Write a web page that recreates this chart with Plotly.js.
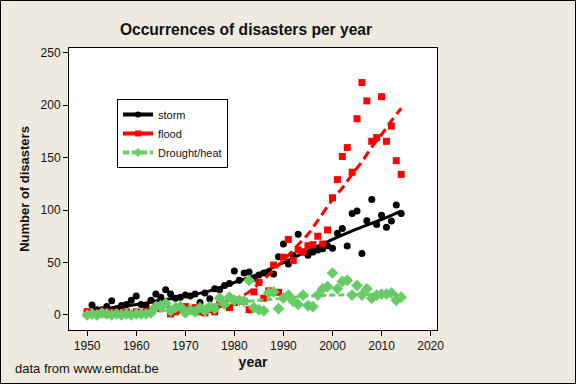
<!DOCTYPE html>
<html>
<head>
<meta charset="utf-8">
<script src="https://cdn.plot.ly/plotly-3.0.1.min.js"></script>
<style>
  html, body { margin: 0; padding: 0; background: #EEEAE0; }
  #chart { width: 576px; height: 384px; }
</style>
</head>
<body>
<div id="chart"></div>
<script>
// ---- data ----
const years = [];
for (let y = 1950; y <= 2014; y++) years.push(y);

const storm = [3, 9.5, 5, 5, 8, 13.5, 6, 9, 10, 14,
               18, 10, 9, 14, 20, 17, 24, 20, 16, 17,
               19, 18, 20, 12, 21, 15.5, 25, 24, 28, 30,
               42, 33, 40, 41, 35, 38, 40, 41, 39, 55.5,
               67.6, 48.5, 57, 77, 60, 57, 60, 62, 63, 66,
               63.5, 78, 82.5, 65.7, 96.8, 99, 58.7, 89.7, 110, 86.3,
               95, 83.5, 89.5, 104.7, 96.8];

const flood = [3, 1, 2, 1, 3, 2, 1, 2, 3, 1,
               3, 2, 3, 4, 8, 6, 10, 1, 3, 5,
               8, 4, 7, 3, 2, 5, 3, 10, 11, 7,
               12, 14, 13, 5, 22, 31, 16, 23, 47.6, 21.6,
               55, 72, 52, 62, 60, 66, 67, 75, 67.6, 81,
               111.7, 129, 151, 159.5, 136, 187, 221.5, 204, 165.5, 169,
               208, 165.5, 180, 147, 134];

const drought = [0, 1, 0, 2, 1, 0, 1, 0, 1, 0,
                 1, 1, 1, 2, 8, 9, 11, 4, 7, 8,
                 2, 5, 3, 7, 4, 8, 6, 16, 10, 17,
                 14, 14, 13, 33, 7, 5, 4, 21, 22, 6,
                 16, 19, 13, 10, 19, 9, 8, 19, 25, 27,
                 40, 25, 32, 33, 19, 28, 19, 25, 16, 19,
                 20, 20, 21, 14, 17];

// smoothed trend lines
const trendYears   = [1950, 1955, 1960, 1965, 1970, 1975, 1980, 1985, 1990, 1995, 2000, 2005, 2010, 2014];
const stormTrend   = [4, 7, 10, 14, 18, 23, 31, 39, 50, 61, 72, 82, 91, 99];
const droughtTrend = [0.5, 1, 2, 4, 6, 9, 12, 14, 16, 18, 19, 19.5, 19.5, 19.5];

const floodTrendYears = [1982, 1983, 1986, 1990, 1993, 1995, 1997, 2000, 2002, 2004, 2006, 2008, 2010, 2012, 2014];
const floodTrend      = [19, 22, 34, 52, 67, 77, 90, 110, 121, 134, 146, 160, 172, 185, 197];

const seriesNames = ['storm', 'flood', 'Drought/heat'];
const xTicks = [1950, 1960, 1970, 1980, 1990, 2000, 2010, 2020];
const yTicks = [0, 50, 100, 150, 200, 250];

// ---- styles ----
const BLACK = '#000000', RED = '#FF0000', GREEN = '#66CC66';
const FONT = 'Liberation Sans, Arial, sans-serif';

const traces = [
  // storm
  { x: years, y: storm, mode: 'markers', type: 'scatter', showlegend: false,
    marker: { symbol: 'circle', size: 7, color: BLACK } },
  { x: trendYears, y: stormTrend, mode: 'lines', type: 'scatter', showlegend: false,
    line: { color: BLACK, width: 3, shape: 'spline' } },
  // flood
  { x: years, y: flood, mode: 'markers', type: 'scatter', showlegend: false,
    marker: { symbol: 'square', size: 7, color: RED } },
  { x: floodTrendYears, y: floodTrend, mode: 'lines', type: 'scatter', showlegend: false,
    line: { color: RED, width: 3, dash: '9px,5px', shape: 'spline' } },
  // drought
  { x: years, y: drought, mode: 'markers', type: 'scatter', showlegend: false,
    marker: { symbol: 'diamond', size: 9, color: GREEN } },
  { x: trendYears, y: droughtTrend, mode: 'lines', type: 'scatter', showlegend: false,
    line: { color: GREEN, width: 3, dash: '6px,3px', shape: 'spline' } },
  // legend entries
  { x: [null], y: [null], mode: 'lines+markers', type: 'scatter', name: seriesNames[0],
    line: { color: BLACK, width: 4 }, marker: { symbol: 'circle', size: 6, color: BLACK } },
  { x: [null], y: [null], mode: 'lines+markers', type: 'scatter', name: seriesNames[1],
    line: { color: RED, width: 4 }, marker: { symbol: 'square', size: 6, color: RED } },
  { x: [null], y: [null], mode: 'lines+markers', type: 'scatter', name: seriesNames[2],
    line: { color: GREEN, width: 4, dash: '6px,3px' }, marker: { symbol: 'diamond', size: 7, color: GREEN } }
];

const layout = {
  width: 576, height: 384,
  margin: { l: 69, r: 139, t: 48, b: 54, pad: 0 },
  paper_bgcolor: '#EEEAE0',
  plot_bgcolor: '#FFFFFF',
  font: { family: FONT, size: 12, color: '#111111' },
  title: {
    text: '<b>Occurrences of disasters per year</b>',
    font: { family: FONT, size: 15.6, color: '#111111' },
    x: 246 / 576, xanchor: 'center', xref: 'container',
    y: 1 - 30 / 384, yanchor: 'middle', yref: 'container'
  },
  xaxis: {
    range: [1946.3, 2021.3], tickvals: xTicks, ticktext: xTicks.map(String),
    ticks: 'outside', ticklen: 5, tickcolor: '#000', tickwidth: 1,
    showline: true, linecolor: '#000', linewidth: 1, mirror: true,
    showgrid: false, zeroline: false,
    tickfont: { family: FONT, size: 12, color: '#111111' },
    title: { text: '<b>year</b>', font: { family: FONT, size: 14, color: '#111111' }, standoff: 4 },
    automargin: false
  },
  yaxis: {
    range: [-14.3, 254.4], tickvals: yTicks, ticktext: yTicks.map(String),
    ticks: 'outside', ticklen: 5, tickcolor: '#000', tickwidth: 1,
    showline: true, linecolor: '#000', linewidth: 1, mirror: true,
    showgrid: false, zeroline: false,
    tickfont: { family: FONT, size: 12, color: '#111111' },
    title: { text: '<b>Number of disasters</b>', font: { family: FONT, size: 13, color: '#111111' }, standoff: 8 },
    automargin: false
  },
  legend: {
    x: 48 / 368, xanchor: 'left', y: (330 - 99) / 282, yanchor: 'top',
    bgcolor: '#FFFFFF', bordercolor: '#000000', borderwidth: 1,
    font: { family: FONT, size: 11, color: '#111111' },
    itemwidth: 30, tracegroupgap: 0
  },
  annotations: [
    { text: 'data from www.emdat.be', xref: 'paper', yref: 'paper',
      x: (13 - 69) / 368, xanchor: 'left', y: (330 - 368) / 282, yanchor: 'middle',
      showarrow: false, font: { family: FONT, size: 13, color: '#111111' } }
  ],
  shapes: [
    { type: 'rect', xref: 'paper', yref: 'paper',
      x0: (0.5 - 69) / 368, x1: (575.5 - 69) / 368,
      y0: (330 - 383.5) / 282, y1: (330 - 0.5) / 282,
      line: { color: '#000000', width: 1 }, fillcolor: 'rgba(0,0,0,0)', layer: 'above' }
  ]
};

Plotly.newPlot('chart', traces, layout, { displayModeBar: false, staticPlot: true });
</script>
</body>
</html>
